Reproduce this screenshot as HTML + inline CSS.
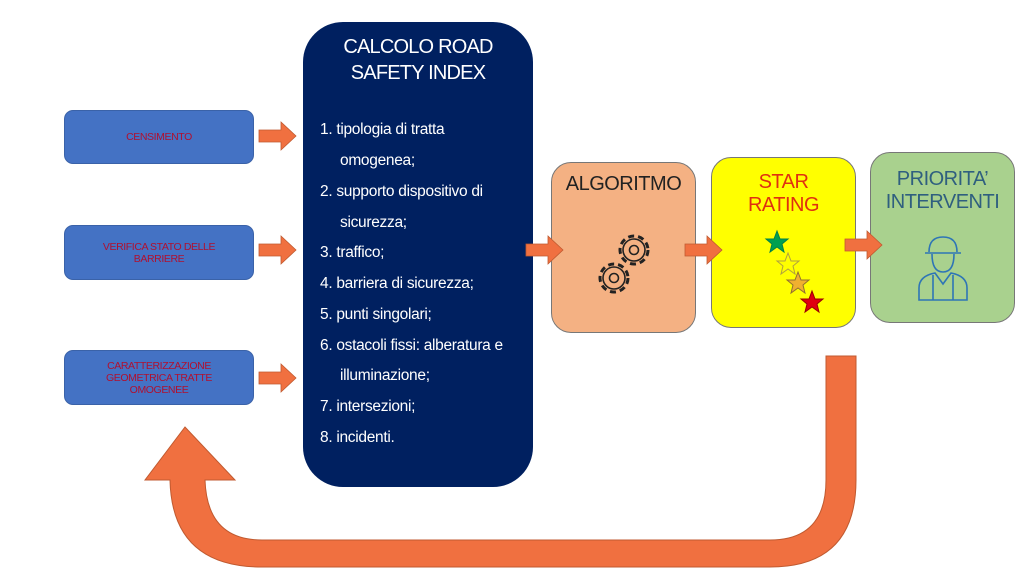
<!DOCTYPE html>
<html><head><meta charset="utf-8"><style>
body{margin:0;width:1024px;height:576px;background:#fff;position:relative;overflow:hidden;font-family:"Liberation Sans",sans-serif}
.a{position:absolute}
.lb{position:absolute;left:64px;width:190px;background:#4472c4;border:1px solid #3a62a8;border-radius:9px;color:#b01030;font-size:10.5px;text-align:center;display:flex;align-items:center;justify-content:center;line-height:12px;letter-spacing:-0.4px;box-sizing:border-box}
.it{position:absolute;left:320px;color:#fff;font-size:15.5px;white-space:nowrap;letter-spacing:-0.3px}
.ind{left:340px}
.bx{position:absolute;border-radius:20px;border:1px solid #777;box-sizing:border-box;text-align:center;font-size:20px;line-height:23px;letter-spacing:-0.5px}
</style></head><body>
<div class="lb" style="top:110px;height:54px">CENSIMENTO</div>
<div class="lb" style="top:225px;height:55px">VERIFICA STATO DELLE<br>BARRIERE</div>
<div class="lb" style="top:350px;height:55px">CARATTERIZZAZIONE<br>GEOMETRICA TRATTE<br>OMOGENEE</div>
<div class="a" style="left:303px;top:22px;width:230px;height:465px;background:#002060;border-radius:40px"></div>
<div class="a" style="left:303px;top:34px;width:230px;text-align:center;color:#fff;font-size:20px;line-height:26px;letter-spacing:-0.8px">CALCOLO ROAD<br>SAFETY INDEX</div>
<div class="it" style="top:121px">1. tipologia di tratta</div>
<div class="it ind" style="top:152px">omogenea;</div>
<div class="it" style="top:183px">2. supporto dispositivo di</div>
<div class="it ind" style="top:214px">sicurezza;</div>
<div class="it" style="top:244px">3. traffico;</div>
<div class="it" style="top:275px">4. barriera di sicurezza;</div>
<div class="it" style="top:306px">5. punti singolari;</div>
<div class="it" style="top:337px">6. ostacoli fissi: alberatura e</div>
<div class="it ind" style="top:367px">illuminazione;</div>
<div class="it" style="top:398px">7. intersezioni;</div>
<div class="it" style="top:429px">8. incidenti.</div>
<div class="bx" style="left:551px;top:162px;width:145px;height:171px;background:#f4b183;color:#222;padding-top:10px">ALGORITMO</div>
<svg class="a" style="left:592px;top:228px" width="66" height="72" viewBox="0 0 66 72">
<g fill="none" stroke="#222" stroke-width="1.6">
<circle cx="42" cy="22" r="14" stroke-dasharray="6 4" stroke-width="3"/><circle cx="42" cy="22" r="11"/><circle cx="42" cy="22" r="4.5"/>
<circle cx="22" cy="50" r="14" stroke-dasharray="6 4" stroke-width="3"/><circle cx="22" cy="50" r="11"/><circle cx="22" cy="50" r="4.5"/>
</g></svg>
<div class="bx" style="left:711px;top:157px;width:145px;height:171px;background:#ffff00;color:#e03010;padding-top:13px">STAR<br>RATING</div>
<svg class="a" style="left:760px;top:225px" width="70" height="90">
<g stroke-width="1">
<polygon points="17,6 20,14 28,14 22,19 24,27 17,22 10,27 12,19 6,14 14,14" fill="#00a050" stroke="#00804a"/>
<polygon points="28,28 31,36 39,36 33,41 35,49 28,44 21,49 23,41 17,36 25,36" fill="none" stroke="#b0a040"/>
<polygon points="38,47 41,55 49,55 43,60 45,68 38,63 31,68 33,60 27,55 35,55" fill="#f0b030" stroke="#907030"/>
<polygon points="52,66 55,74 63,74 57,79 59,87 52,82 45,87 47,79 41,74 49,74" fill="#e00010" stroke="#900"/>
</g></svg>
<div class="bx" style="left:870px;top:152px;width:145px;height:171px;background:#a9d18e;color:#2f5f7f;padding-top:15px">PRIORITA’<br>INTERVENTI</div>
<svg class="a" style="left:915px;top:232px" width="56" height="70" viewBox="0 0 56 70">
<g fill="none" stroke="#2e75b6" stroke-width="1.6">
<path d="M14,20 Q14,5 28,5 Q42,5 42,20 M10,21 H46"/>
<path d="M17,22 Q17,40 28,40 Q39,40 39,22"/>
<path d="M4,68 V56 Q4,44 20,41 L28,52 L36,41 Q52,44 52,56 V68 Z"/>
<path d="M18,43 V68 M38,43 V68"/>
</g></svg>
<svg class="a" style="left:0;top:0;z-index:5" width="1024" height="576">
<defs><g id="ar"><polygon points="0,-6 22,-6 22,-14 37,0 22,14 22,6 0,6" fill="#f07040" stroke="#c05a30" stroke-width="0.8"/></g></defs>
<use href="#ar" x="259" y="136"/>
<use href="#ar" x="259" y="250"/>
<use href="#ar" x="259" y="378"/>
<use href="#ar" x="526" y="250"/>
<use href="#ar" x="685" y="250"/>
<use href="#ar" x="845" y="245"/>
<path d="M826,356 L856,356 L856,480 Q856,567 770,567 L262,567 Q172,567 170,480 L145,480 L185,427 L235,480 L205,480 Q207,540 262,540 L770,540 Q826,540 826,480 Z" fill="#f07040" stroke="#c05a30" stroke-width="1"/>
</svg>
</body></html>
